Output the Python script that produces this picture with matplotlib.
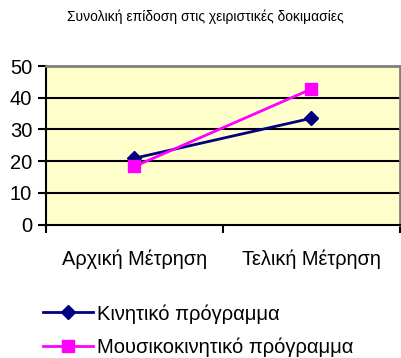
import matplotlib
matplotlib.use("Agg")
import matplotlib.pyplot as plt
import numpy as np

plt.rcParams["font.family"] = ["Liberation Sans", "DejaVu Sans"]

# ---------------------------------------------------------------------------
# Data
# ---------------------------------------------------------------------------
title = "Συνολική επίδοση στις χειριστικές δοκιμασίες"
categories = ["Αρχική Μέτρηση", "Τελική Μέτρηση"]
series_names = ["Κινητικό πρόγραμμα", "Μουσικοκινητικό πρόγραμμα"]
kinetic = [20.9, 33.5]
music_kinetic = [18.3, 42.7]
y_ticks = [0, 10, 20, 30, 40, 50]

fig = plt.figure(figsize=(4.01, 3.58), dpi=100)
ax = fig.add_axes([46 / 401, 1 - 224.5 / 358, 353.5 / 401, 158.5 / 358])
ax.set_facecolor("#FFFFCC")

x = np.arange(len(categories)) + 0.5
ax.plot(x, kinetic, color="#000080", linewidth=2, marker="D", markersize=7,
        label=series_names[0], zorder=3)
ax.plot(x, music_kinetic, color="#FF00FF", linewidth=2, marker="s", markersize=9,
        label=series_names[1], zorder=3)

ax.set_xlim(0, len(categories))
ax.set_ylim(0, 50)
ax.set_yticks(y_ticks)
ax.set_xticks(np.arange(len(categories) + 1))
ax.set_xticklabels([])
ax.set_xticks(x, minor=True)
ax.set_xticklabels(categories, minor=True)
ax.tick_params(axis="x", which="minor", length=0, pad=18, labelsize=14.4)
ax.tick_params(axis="x", which="major", length=6, width=1.5, direction="out")
ax.tick_params(axis="y", length=6, width=1.5, labelsize=14.5, pad=4)

for yv in y_ticks[1:-1]:
    ax.axhline(yv, color="black", linewidth=1.5, zorder=1)

for side in ("left", "bottom"):
    ax.spines[side].set_color("black")
    ax.spines[side].set_linewidth(1.5)
for side in ("top", "right"):
    ax.spines[side].set_color("#808080")
    ax.spines[side].set_linewidth(2)

fig.text(205 / 401, 1 - 17 / 358, title, ha="center", va="center", fontsize=10)

fig.legend(loc="upper left", bbox_to_anchor=(43 / 401, 1 - 304 / 358),
           frameon=False, fontsize=14.5, handlelength=2.5, handletextpad=0.2,
           labelspacing=0.68, borderpad=0, borderaxespad=0)

fig.savefig("out.png", dpi=100)
